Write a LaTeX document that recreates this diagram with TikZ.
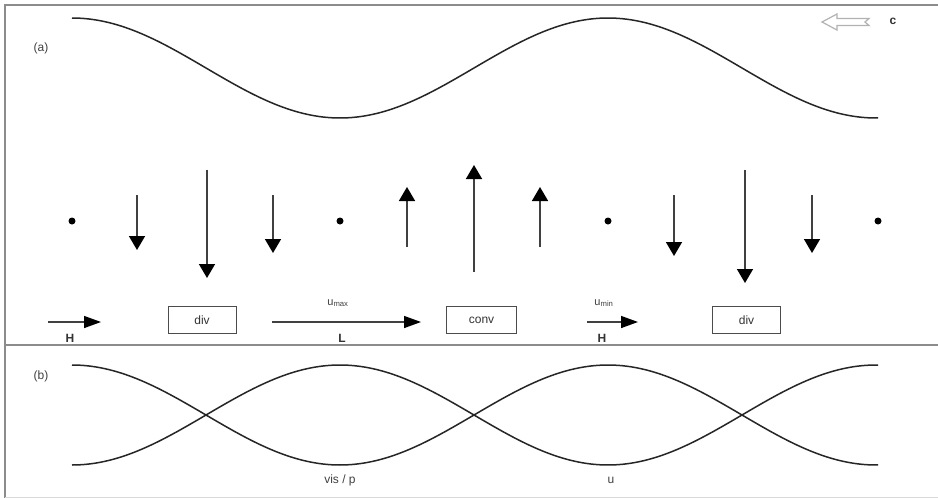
\documentclass[tikz,border=0pt]{standalone}
\usepackage{fontspec}
\setmainfont{Liberation Sans}
\usetikzlibrary{arrows.meta}
\begin{document}
\begin{tikzpicture}[x=1pt,y=-1pt,
  frame/.style={draw=black!45,line width=1.8pt},
  wave/.style={draw=black!85,line width=1.5pt},
  vec/.style={draw=black!75,line width=1.6pt,-{Triangle[length=14pt,width=16pt,fill=black,color=black]}},
  hvec/.style={draw=black!75,line width=1.5pt,-{Triangle[length=17pt,width=12pt,fill=black,color=black]}},
  dotnode/.style={circle,fill=black,inner sep=0pt,minimum size=7pt},
  boxnode/.style={draw=black!70,line width=1pt,minimum width=68pt,minimum height=27pt,inner sep=0pt,font=\fontsize{12}{13}\selectfont,text=black!80},
  lbl/.style={font=\fontsize{12}{13}\selectfont,text=black!75,inner sep=0pt},
  blbl/.style={font=\bfseries\fontsize{12}{13}\selectfont,text=black!80,inner sep=0pt}]
\useasboundingbox (0,0) rectangle (938,498);
\fill[white] (0,0) rectangle (938,498);
% frame
\draw[frame] (5,498) -- (5,5) -- (938,5);
\draw[frame] (5,345) -- (938,345);
\draw[draw=black!15,line width=1pt] (5,497.5) -- (938,497.5);
% panel labels
\node[lbl] (la) at (41,48) {(a)};
\node[lbl] (lb) at (41,376) {(b)};
% top-right hollow arrow and c
\draw[draw=black!30,line width=1.2pt] (822,22) -- (837,14) -- (837,18.5) -- (869,18.5) -- (865,22) -- (869,25.5) -- (837,25.5) -- (837,30) -- cycle;
\node[blbl] (c) at (893,21) {c};
% wave (a)
\draw[wave] plot[domain=72:878,samples=200] (\x,{68-50*cos(0.671642*(\x-72))});
% dots
\foreach \n/\xx in {d1/72,d2/340,d3/608,d4/878}
  \node[dotnode] (\n) at (\xx,221) {};
% vertical vectors
\foreach \n/\xx/\ya/\yb in {a1/137/195/250, a2/207/170/278, a3/273/195/253,
                             a4/407/247/187, a5/474/272/165, a6/540/247/187,
                             a7/674/195/256, a8/745/170/283, a9/812/195/253}{
  \coordinate (\n s) at (\xx,\ya);
  \coordinate (\n e) at (\xx,\yb);
  \draw[vec] (\n s) -- (\n e);
}
% bottom row of (a)
\node[boxnode] (div1) at (202,320) {div};
\node[boxnode,minimum width=70pt] (conv) at (481.5,320) {conv};
\node[boxnode] (div2) at (746.5,320) {div};
\coordinate (h1s) at (48,322); \coordinate (h1e) at (101,322);
\draw[hvec] (h1s) -- (h1e);
\node[blbl] (H1) at (70,338) {H};
\coordinate (h2s) at (272,322); \coordinate (h2e) at (421,322);
\draw[hvec] (h2s) -- (h2e);
\node[lbl] (umax) at (338,303) {\fontsize{11}{12}\selectfont u\textsubscript{max}};
\node[blbl] (L) at (342,338) {L};
\coordinate (h3s) at (587,322); \coordinate (h3e) at (638,322);
\draw[hvec] (h3s) -- (h3e);
\node[lbl] (umin) at (604,303) {\fontsize{11}{12}\selectfont u\textsubscript{min}};
\node[blbl] (H2) at (602,338) {H};
% panel (b)
\draw[wave] plot[domain=72:878,samples=200] (\x,{415-50*cos(0.671642*(\x-72))});
\draw[wave] plot[domain=72:878,samples=200] (\x,{415+50*cos(0.671642*(\x-72))});
\node[lbl] (vis) at (340,480) {vis / p};
\node[lbl] (u) at (611,480) {u};
\end{tikzpicture}
\end{document}
